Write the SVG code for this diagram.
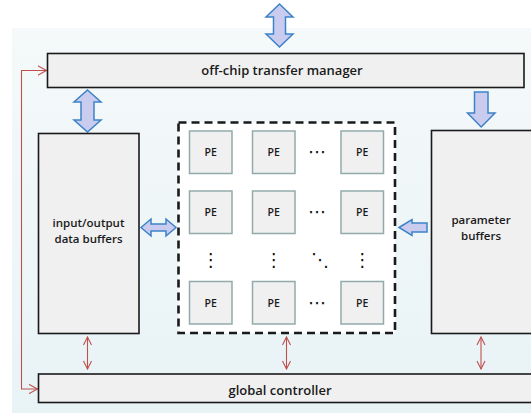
<svg xmlns="http://www.w3.org/2000/svg" width="531" height="413" viewBox="0 0 531 413">
  <defs>
    <linearGradient id="bg" x1="0" y1="0" x2="0" y2="1">
      <stop offset="0" stop-color="#f5f9fa"/>
      <stop offset="1" stop-color="#e8f3f6"/>
    </linearGradient>
    <marker id="rv" viewBox="0 0 10 10" refX="9" refY="5" markerWidth="10" markerHeight="10" markerUnits="userSpaceOnUse" orient="auto-start-reverse">
      <path d="M1,1 L9,5 L1,9" fill="none" stroke="#c0504d" stroke-width="1.1"/>
    </marker>
    <marker id="rh" viewBox="0 0 10 12" refX="9" refY="6" markerWidth="10" markerHeight="12" markerUnits="userSpaceOnUse" orient="auto-start-reverse">
      <path d="M0,1 L9,6 L0,11" fill="none" stroke="#c0504d" stroke-width="1.1"/>
    </marker>
  </defs>
  <style>
    .box{fill:#f0f0f0;stroke:#1a1a1a;stroke-width:1.6}
    .pe{fill:#f0f0f0;stroke:#92aaaa;stroke-width:1.5}
    .blk{fill:#c9ccef;stroke:#3d82c8;stroke-width:1.5;stroke-linejoin:miter}
    .red{fill:none;stroke:#c0504d;stroke-width:1.1}
    .t{font-family:"Open Sans","DejaVu Sans",sans-serif;font-weight:600;fill:#1a1a1a;text-anchor:middle}
    .lbl{font-size:11.5px}
    .big{font-size:13px}
    .pet{font-size:10.5px}
    .dots{font-family:"DejaVu Sans",sans-serif;fill:#111;text-anchor:middle;font-size:18px}
  </style>
  <rect x="12" y="28" width="519" height="385" fill="url(#bg)"/>

  <g id="connectors">
    <path class="blk" d="M279.5,4 L293,17 L285.5,17 L285.5,34 L293,34 L279.5,47 L266,34 L273.5,34 L273.5,17 L266,17 Z"/>
    <path class="blk" d="M87.5,90 L101,102 L94,102 L94,120 L101,120 L87.5,132 L74,120 L81,120 L81,102 L74,102 Z"/>
    <path class="blk" d="M474.5,92 L488,92 L488,113 L495,113 L481.2,127 L467.5,113 L474.5,113 Z"/>
    <path class="blk" d="M141,227.5 L151,219 L151,224 L166,224 L166,219 L176,227.5 L166,236 L166,231 L151,231 L151,236 Z"/>
    <path class="blk" d="M399,227.5 L412,219.5 L412,223 L427,223 L427,232 L412,232 L412,235.5 Z"/>
    <line class="red" x1="87.5" y1="337" x2="87.5" y2="369" marker-start="url(#rv)" marker-end="url(#rv)"/>
    <line class="red" x1="286.5" y1="337" x2="286.5" y2="369" marker-start="url(#rv)" marker-end="url(#rv)"/>
    <line class="red" x1="481" y1="337" x2="481" y2="369" marker-start="url(#rv)" marker-end="url(#rv)"/>
    <path class="red" d="M37.5,389 L21.5,389 L21.5,70.5 L46.5,70.5" marker-start="url(#rh)" marker-end="url(#rh)"/>
  </g>

  <g id="transfer-manager">
    <rect class="box" x="47.5" y="53.5" width="476.5" height="34"/>
    <text class="t big" x="282" y="75">off-chip transfer manager</text>
  </g>

  <g id="io-buffers">
    <rect class="box" x="38.5" y="133.5" width="100.5" height="200"/>
    <text class="t lbl" x="88.5" y="226.5">input/output</text>
    <text class="t lbl" x="88.5" y="242.5">data buffers</text>
  </g>

  <g id="param-buffers">
    <rect class="box" x="431.5" y="130.5" width="104" height="203"/>
    <text class="t lbl" x="481" y="224">parameter</text>
    <text class="t lbl" x="481" y="240">buffers</text>
  </g>

  <g id="global-controller">
    <rect class="box" x="38.5" y="374" width="497" height="28.5"/>
    <text class="t big" x="280" y="394.5">global controller</text>
  </g>

  <g id="pe-array">
    <rect x="178.5" y="122.5" width="216.5" height="210.5" fill="#ffffff" stroke="#1a1a1a" stroke-width="2.6" stroke-dasharray="8,5"/>
    <rect class="pe" x="189.5" y="131" width="42.5" height="42.5"/>
    <rect class="pe" x="252.5" y="131" width="42.5" height="42.5"/>
    <rect class="pe" x="341" y="131" width="42.5" height="42.5"/>
    <rect class="pe" x="189.5" y="191" width="42.5" height="42.5"/>
    <rect class="pe" x="252.5" y="191" width="42.5" height="42.5"/>
    <rect class="pe" x="341" y="191" width="42.5" height="42.5"/>
    <rect class="pe" x="189.5" y="281.5" width="42.5" height="42.5"/>
    <rect class="pe" x="252.5" y="281.5" width="42.5" height="42.5"/>
    <rect class="pe" x="341" y="281.5" width="42.5" height="42.5"/>
    <text class="t pet" x="210.7" y="156">PE</text>
    <text class="t pet" x="273.7" y="156">PE</text>
    <text class="t pet" x="362.2" y="156">PE</text>
    <text class="t pet" x="210.7" y="216">PE</text>
    <text class="t pet" x="273.7" y="216">PE</text>
    <text class="t pet" x="362.2" y="216">PE</text>
    <text class="t pet" x="210.7" y="306.5">PE</text>
    <text class="t pet" x="273.7" y="306.5">PE</text>
    <text class="t pet" x="362.2" y="306.5">PE</text>
    <text class="dots" x="317" y="158">⋯</text>
    <text class="dots" x="317" y="218">⋯</text>
    <text class="dots" x="317" y="308.5">⋯</text>
    <text class="dots" x="210.7" y="266">⋮</text>
    <text class="dots" x="273.7" y="266">⋮</text>
    <text class="dots" x="362.2" y="266">⋮</text>
    <text class="dots" x="320" y="266">⋱</text>
  </g>
</svg>
